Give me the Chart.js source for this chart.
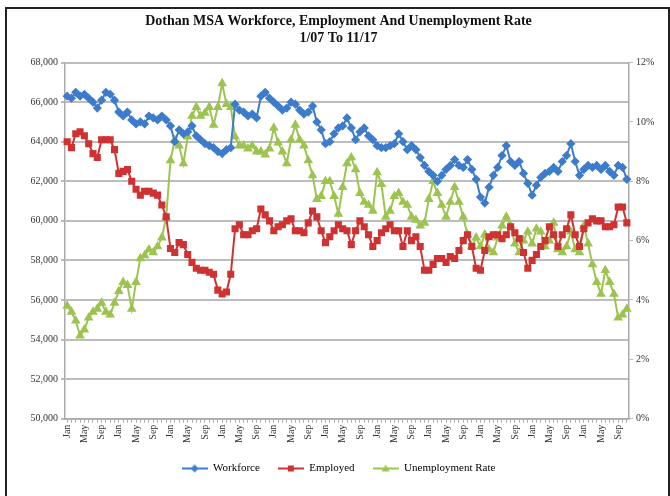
<!DOCTYPE html>
<html>
<head>
<meta charset="utf-8">
<script src="https://cdn.jsdelivr.net/npm/chart.js@4.4.0/dist/chart.umd.min.js"></script>
<style>
  html, body { margin: 0; padding: 0; background: #fff; }
  #wrap { position: relative; width: 670px; height: 496px; overflow: hidden; }
  #chart { position: absolute; left: 0; top: 0; }
  #frame { position: absolute; left: 5px; top: 7px; width: 661px; height: 520px; border: 2px solid #222; pointer-events: none; }
</style>
</head>
<body>
<div id="wrap">
  <canvas id="chart" width="670" height="496"></canvas>
  <div id="frame"></div>
</div>
<script>
const monthNames = ["Jan", "Feb", "Mar", "Apr", "May", "Jun", "Jul", "Aug", "Sep", "Oct", "Nov", "Dec"];
const years = [2007, 2008, 2009, 2010, 2011, 2012, 2013, 2014, 2015, 2016, 2017];
const lastMonth = 11; // data runs to Nov 2017

// Workforce, Jan 2007 - Nov 2017
const workforce = [
    66300, 66200, 66500, 66300, 66400, 66200, 66000, 65700, 66100, 66500, 66400, 66100,
    65500, 65300, 65500, 65100, 64900, 65000, 64900, 65300, 65200, 65100, 65300, 65100,
    64800, 64000, 64600, 64400, 64500, 64800, 64300, 64100, 63900, 63800, 63700, 63500,
    63400, 63600, 63700, 65900, 65600, 65500, 65300, 65400, 65200, 66300, 66500, 66200,
    66000, 65800, 65600, 65700, 66000, 65900, 65600, 65400, 65500, 65800, 65000, 64600,
    63900, 64000, 64400, 64700, 64800, 65200, 64700, 64100, 64500, 64700, 64300, 64100,
    63800, 63700, 63700, 63800, 63900, 64400, 64000, 63600, 63800, 63600, 63200, 62800,
    62500, 62300, 62000, 62300, 62600, 62800, 63100, 62800, 62700, 63100, 62600, 62100,
    61200, 60900, 61700, 62300, 62700, 63300, 63800, 63000, 62800, 63000, 62400, 61900,
    61300, 61800, 62200, 62400, 62500, 62700, 62500, 63000, 63300, 63900, 63000, 62300,
    62600, 62800, 62700, 62800, 62600, 62800, 62500, 62300, 62800, 62700, 62100
];

// Employed
const employed = [
    64000, 63700, 64400, 64500, 64300, 63900, 63400, 63200, 64100, 64100, 64100, 63600,
    62400, 62500, 62600, 62000, 61600, 61300, 61500, 61500, 61400, 61300, 60800, 60200,
    58600, 58400, 58900, 58800, 58300, 57900, 57600, 57500, 57500, 57400, 57300, 56500,
    56300, 56400, 57300, 59600, 59800, 59300, 59300, 59500, 59600, 60600, 60300, 60000,
    59500, 59700, 59800, 60000, 60100, 59500, 59500, 59400, 59900, 60500, 60200, 59500,
    58900, 59200, 59500, 59800, 59600, 59500, 58800, 59500, 60000, 59700, 59300, 58700,
    59000, 59400, 59600, 59800, 59500, 59500, 58700, 59500, 59000, 59200, 58700, 57500,
    57500, 57800, 58100, 58100, 57900, 58200, 58100, 58500, 59000, 59300, 58700, 57600,
    57500, 58500, 59200, 59300, 59300, 59100, 59300, 59700, 59400, 59100, 58400, 57600,
    58000, 58300, 58700, 59000, 59700, 59300, 58700, 59300, 59600, 60300, 59300, 58700,
    59600, 59900, 60100, 60000, 60000, 59700, 59700, 59800, 60700, 60700, 59900
];

// Unemployment rate, percent
const unemploymentRate = [
    3.8, 3.6, 3.3, 2.8, 3.0, 3.4, 3.6, 3.7, 3.9, 3.6, 3.5, 3.9,
    4.3, 4.6, 4.5, 3.7, 4.6, 5.4, 5.5, 5.7, 5.6, 5.8, 6.1, 6.8,
    8.7, 9.4, 9.2, 8.6, 9.5, 10.2, 10.5, 10.2, 10.3, 10.5, 9.9, 10.5,
    11.3, 10.6, 10.5, 9.5, 9.2, 9.2, 9.1, 9.2, 9.0, 9.0, 8.9, 9.1,
    9.8, 9.3, 9.0, 8.6, 9.4, 9.9, 9.4, 9.2, 8.7, 8.2, 7.4, 7.5,
    8.0, 8.0, 7.5, 6.9, 7.8, 8.6, 8.8, 8.4, 7.6, 7.3, 7.2, 7.0,
    8.3, 7.9, 6.8, 7.0, 7.5, 7.6, 7.3, 7.2, 6.8, 6.7, 6.5, 6.6,
    7.4, 8.0, 7.6, 7.2, 6.8, 7.3, 7.8, 7.3, 6.8, 6.2, 5.8, 6.1,
    5.8, 6.2, 5.7, 5.6, 6.1, 6.5, 6.8, 6.5, 5.9, 5.6, 6.0, 6.3,
    5.9, 6.4, 6.3, 5.8, 6.0, 6.6, 5.7, 5.6, 5.8, 6.3, 5.7, 5.6,
    6.5, 5.9, 5.2, 4.6, 4.2, 5.0, 4.6, 4.2, 3.4, 3.5, 3.7
];

const titleLines = ["Dothan MSA Workforce, Employment And Unemployment Rate", "1/07 To 11/17"];

const blue = "#3D7CCB";
const red = "#CF3232";
const green = "#9DC350";
const serif = "'Liberation Serif', 'Times New Roman', serif";

// category labels: one per month
const labels = [];
years.forEach((y, yi) => {
    monthNames.forEach((m, mi) => {
        if (yi === years.length - 1 && mi >= lastMonth) return;
        labels.push(m);
    });
});

// legend swatch: short line with the series marker in the middle
function legendSwatch(color, shape) {
    const c = document.createElement("canvas");
    c.width = 26;
    c.height = 10;
    const g = c.getContext("2d");
    g.strokeStyle = color;
    g.fillStyle = color;
    g.lineWidth = 2;
    g.beginPath();
    g.moveTo(0, 5);
    g.lineTo(26, 5);
    g.stroke();
    g.beginPath();
    if (shape === "diamond") {
        g.moveTo(13, 1); g.lineTo(17, 5); g.lineTo(13, 9); g.lineTo(9, 5);
    } else if (shape === "square") {
        g.rect(10, 2, 6, 6);
    } else {
        g.moveTo(13, 1); g.lineTo(17, 8); g.lineTo(9, 8);
    }
    g.closePath();
    g.fill();
    return c;
}

const swatches = [legendSwatch(blue, "diamond"), legendSwatch(red, "square"), legendSwatch(green, "triangle")];

const ctx = document.getElementById("chart").getContext("2d");
new Chart(ctx, {
    type: "line",
    data: {
        labels: labels,
        datasets: [
            {
                label: "Workforce",
                data: workforce,
                yAxisID: "y",
                borderColor: blue,
                backgroundColor: blue,
                borderWidth: 2,
                pointStyle: "rectRot",
                pointRadius: 3.2,
                tension: 0,
            },
            {
                label: "Employed",
                data: employed,
                yAxisID: "y",
                borderColor: red,
                backgroundColor: red,
                borderWidth: 2,
                pointStyle: "rect",
                pointRadius: 3.6,
                tension: 0,
            },
            {
                label: "Unemployment Rate",
                data: unemploymentRate,
                yAxisID: "y1",
                borderColor: green,
                backgroundColor: green,
                borderWidth: 2,
                pointStyle: "triangle",
                pointRadius: 3.6,
                tension: 0,
            },
        ],
    },
    options: {
        responsive: false,
        animation: false,
        layout: { padding: { left: 7, right: 0, top: 4, bottom: 12 } },
        plugins: {
            title: {
                display: true,
                text: titleLines,
                color: "#111",
                font: { family: serif, size: 14, weight: "bold", lineHeight: 1.2 },
                padding: { top: 9, bottom: 16 },
            },
            legend: {
                position: "bottom",
                labels: {
                    color: "#222",
                    font: { family: serif, size: 11 },
                    usePointStyle: true,
                    pointStyleWidth: 26,
                    boxHeight: 10,
                    padding: 18,
                    generateLabels: (chart) => chart.data.datasets.map((ds, i) => ({
                        text: ds.label,
                        pointStyle: swatches[i],
                        fillStyle: ds.borderColor,
                        strokeStyle: ds.borderColor,
                        lineWidth: 0,
                        datasetIndex: i,
                        hidden: false,
                    })),
                },
            },
            tooltip: { enabled: false },
        },
        scales: {
            x: {
                offset: true,
                grid: { drawOnChartArea: false, color: "#aaa", tickLength: 4 },
                border: { color: "#aaa", width: 1.5 },
                ticks: {
                    autoSkip: false,
                    minRotation: 90,
                    maxRotation: 90,
                    padding: 2,
                    color: "#333",
                    font: { family: serif, size: 10 },
                    callback: function (val, idx) {
                        return idx % 4 === 0 ? this.getLabelForValue(val) : "";
                    },
                },
            },
            y: {
                position: "left",
                min: 50000,
                max: 68000,
                afterFit: (scale) => { scale.width = 58; },
                grid: { color: "#bdbdbd", lineWidth: 2, tickLength: 4, tickColor: "#bbb" },
                border: { color: "#aaa", width: 1.5 },
                ticks: {
                    stepSize: 2000,
                    color: "#333",
                    padding: 3,
                    font: { family: serif, size: 10 },
                    callback: (v) => v.toLocaleString("en-US"),
                },
            },
            y1: {
                position: "right",
                min: 0,
                max: 12,
                afterFit: (scale) => { scale.width = 41; },
                grid: { drawOnChartArea: false, tickLength: 4, color: "#bbb" },
                border: { color: "#aaa", width: 1.5 },
                ticks: {
                    stepSize: 2,
                    color: "#333",
                    padding: 3,
                    font: { family: serif, size: 10 },
                    callback: (v) => v + "%",
                },
            },
        },
    },
});
</script>
</body>
</html>
